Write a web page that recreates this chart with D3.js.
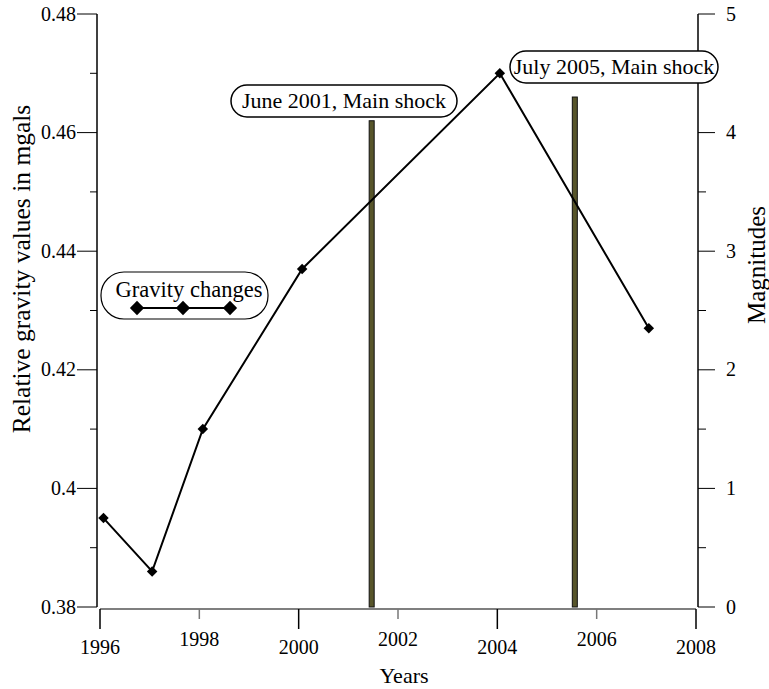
<!DOCTYPE html>
<html>
<head>
<meta charset="utf-8">
<script src="https://cdn.jsdelivr.net/npm/d3@7"></script>
<style>
body { margin: 0; background: #fff; }
</style>
</head>
<body>
<script>
// gravity observations (decimal year, mgals)
const years = [1996.07, 1997.05, 1998.07, 2000.07, 2004.05, 2007.05];
const gravity = [0.395, 0.386, 0.410, 0.437, 0.470, 0.427];

// main shocks (decimal year, magnitude)
const shockYears = [2001.47, 2005.56];
const shockMags = [4.1, 4.3];
const shockLabels = ["June 2001, Main shock", "July 2005, Main shock"];

const xTicks = [1996, 1998, 2000, 2002, 2004, 2006, 2008];
const gTicks = [0.38, 0.40, 0.42, 0.44, 0.46, 0.48];
const mTicks = [0, 1, 2, 3, 4, 5];

const width = 769, height = 689;
const plotLeft = 97, plotRight = 698, plotTop = 14, plotBottom = 607;

const svg = d3.select("body").append("svg")
  .attr("width", width).attr("height", height)
  .style("font-family", '"Liberation Serif", "Times New Roman", serif');

const x = d3.scaleLinear().domain([1996, 2008]).range([plotLeft + 3, plotRight - 2]);
const yG = d3.scaleLinear().domain([0.38, 0.48]).range([plotBottom, plotTop]);
const yM = d3.scaleLinear().domain([0, 5]).range([plotBottom, plotTop]);

//Left axis with minor ticks
const leftAxis = svg.append("g");
leftAxis.append("line").attr("x1", plotLeft).attr("x2", plotLeft)
  .attr("y1", plotTop).attr("y2", plotBottom).attr("stroke", "#000").attr("stroke-width", 1.5);
leftAxis.selectAll(".minor").data(d3.range(0.39, 0.48, 0.02)).join("line")
  .attr("x1", plotLeft - 7).attr("x2", plotLeft)
  .attr("y1", d => yG(d)).attr("y2", d => yG(d)).attr("stroke", "#000");
leftAxis.selectAll(".major").data(gTicks).join("line")
  .attr("x1", plotLeft - 20).attr("x2", plotLeft)
  .attr("y1", d => yG(d)).attr("y2", d => yG(d)).attr("stroke", "#000");
leftAxis.selectAll("text").data(gTicks).join("text")
  .attr("x", plotLeft - 21).attr("y", d => yG(d) + 6.5)
  .attr("text-anchor", "end").style("font-size", "20px")
  .text(d => d === 0.4 ? "0.4" : d3.format(".2f")(d));

//Right axis
const rightAxis = svg.append("g");
rightAxis.append("line").attr("x1", plotRight).attr("x2", plotRight)
  .attr("y1", plotTop).attr("y2", plotBottom).attr("stroke", "#000").attr("stroke-width", 1.5);
rightAxis.selectAll(".minor").data(d3.range(0.5, 5, 1)).join("line")
  .attr("x1", plotRight).attr("x2", plotRight + 8)
  .attr("y1", d => yM(d)).attr("y2", d => yM(d)).attr("stroke", "#000");
rightAxis.selectAll(".major").data(mTicks).join("line")
  .attr("x1", plotRight).attr("x2", plotRight + 17)
  .attr("y1", d => yM(d)).attr("y2", d => yM(d)).attr("stroke", "#000");
rightAxis.selectAll("text").data(mTicks).join("text")
  .attr("x", plotRight + 28).attr("y", d => yM(d) + 6.5)
  .style("font-size", "20px").text(d => d);

//Bottom axis, alternating tick lengths
const xAxisY = plotBottom + 2;
const bottomAxis = svg.append("g");
bottomAxis.append("line").attr("x1", x(1996)).attr("x2", x(2008))
  .attr("y1", xAxisY).attr("y2", xAxisY).attr("stroke", "#555").attr("stroke-width", 1.5);
bottomAxis.selectAll("line.t").data(xTicks).join("line").attr("class", "t")
  .attr("x1", d => x(d)).attr("x2", d => x(d))
  .attr("y1", xAxisY).attr("y2", (d, i) => xAxisY + (i % 2 ? 10 : 20))
  .attr("stroke", (d, i) => i % 2 ? "#777" : "#000").attr("stroke-width", 1.5);
bottomAxis.selectAll("text").data(xTicks).join("text")
  .attr("x", d => x(d)).attr("y", (d, i) => i % 2 ? 646 : 654)
  .attr("text-anchor", "middle").style("font-size", "20px").text(d => d);

//Axis titles
svg.append("text").attr("transform", "translate(30,269) rotate(-90)")
  .attr("text-anchor", "middle").style("font-size", "25.5px")
  .text("Relative gravity values in mgals");
svg.append("text").attr("transform", "translate(765,265) rotate(-90)")
  .attr("text-anchor", "middle").style("font-size", "25px").text("Magnitudes");
svg.append("text").attr("x", 404).attr("y", 683)
  .attr("text-anchor", "middle").style("font-size", "22px").text("Years");

//Shock bars
svg.selectAll("rect.bar").data(shockYears).join("rect").attr("class", "bar")
  .attr("x", d => x(d) - 2.5).attr("width", 5)
  .attr("y", (d, i) => yM(shockMags[i]))
  .attr("height", (d, i) => plotBottom - yM(shockMags[i]))
  .attr("fill", "#57552a").attr("stroke", "#111").attr("stroke-width", 1);

//Gravity line
const pts = years.map((d, i) => [x(d), yG(gravity[i])]);
svg.append("path").attr("d", d3.line()(pts))
  .attr("fill", "none").attr("stroke", "#000").attr("stroke-width", 2);

const diamond = d3.symbol().type(d3.symbolDiamond2);
svg.selectAll("path.pt").data(pts).join("path").attr("class", "pt")
  .attr("transform", d => `translate(${d[0]},${d[1]})`)
  .attr("d", diamond.size(70)()).attr("fill", "#000");

//Shock callouts
const callouts = [
  { cx: 344, cy: 101, w: 226, h: 32 },
  { cx: 614, cy: 67, w: 208, h: 32 }
];
callouts.forEach((c, i) => {
  svg.append("rect").attr("x", c.cx - c.w / 2).attr("y", c.cy - c.h / 2)
    .attr("width", c.w).attr("height", c.h).attr("rx", 16)
    .attr("fill", "#fff").attr("stroke", "#000").attr("stroke-width", 1.5);
  svg.append("text").attr("x", c.cx).attr("y", c.cy + 7)
    .attr("text-anchor", "middle").style("font-size", "22px").text(shockLabels[i]);
});

//Legend
const legend = svg.append("g");
legend.append("rect").attr("x", 101).attr("y", 272).attr("width", 167).attr("height", 47)
  .attr("rx", 23).attr("fill", "#fff").attr("stroke", "#000").attr("stroke-width", 1.2);
legend.append("text").attr("x", 189).attr("y", 297).attr("text-anchor", "middle")
  .style("font-size", "22.5px").text("Gravity changes");
legend.append("line").attr("x1", 137).attr("x2", 230).attr("y1", 308).attr("y2", 308)
  .attr("stroke", "#000").attr("stroke-width", 2);
legend.selectAll("path").data([137, 183, 230]).join("path")
  .attr("transform", d => `translate(${d},308)`)
  .attr("d", diamond.size(130)()).attr("fill", "#000");
</script>
</body>
</html>
